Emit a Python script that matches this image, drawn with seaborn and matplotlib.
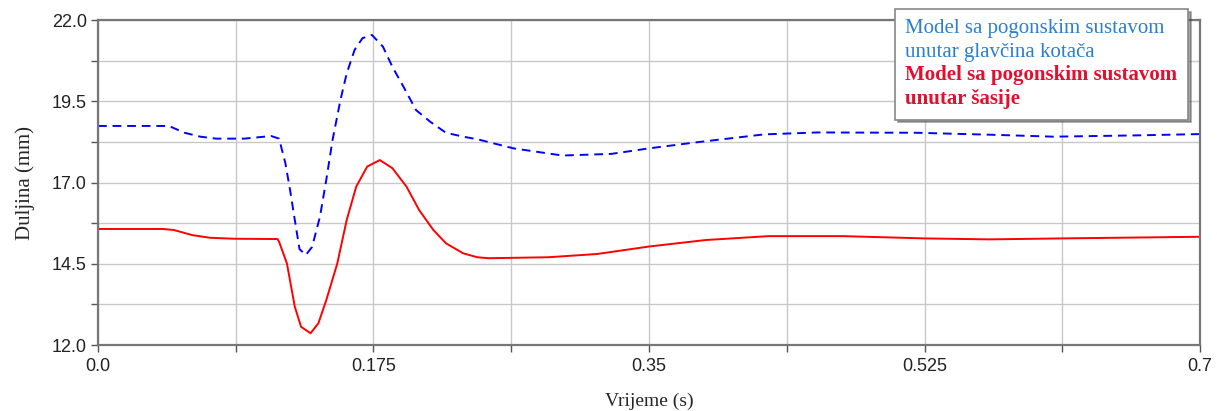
import numpy as np
import pandas as pd
import matplotlib
matplotlib.use("Agg")
import matplotlib.pyplot as plt
from matplotlib.ticker import FixedLocator, FixedFormatter
import seaborn as sns

# ------------------------------------------------------------
# Data
# ------------------------------------------------------------
t_hub = [0.0, 0.045, 0.055, 0.065, 0.075, 0.093, 0.110, 0.115, 0.119, 0.122,
         0.125, 0.128, 0.132, 0.136, 0.141, 0.145, 0.149, 0.154, 0.158, 0.163,
         0.168, 0.174, 0.181, 0.187, 0.194, 0.202, 0.211, 0.221, 0.232, 0.241,
         0.264, 0.295, 0.326, 0.350, 0.379, 0.423, 0.457, 0.520, 0.567, 0.607,
         0.660, 0.700]
v_hub = [18.74, 18.74, 18.53, 18.41, 18.35, 18.35, 18.43, 18.35, 17.60, 16.77,
         15.85, 14.95, 14.77, 15.02, 15.95, 17.08, 18.31, 19.54, 20.36, 21.08,
         21.44, 21.54, 21.18, 20.56, 19.95, 19.23, 18.87, 18.53, 18.41, 18.33,
         18.05, 17.83, 17.88, 18.05, 18.23, 18.48, 18.54, 18.53, 18.47, 18.41,
         18.45, 18.49]

t_chassis = [0.0, 0.041, 0.048, 0.060, 0.071, 0.086, 0.114, 0.115, 0.120, 0.125,
             0.129, 0.135, 0.140, 0.145, 0.152, 0.158, 0.164, 0.171, 0.179, 0.187,
             0.196, 0.204, 0.213, 0.221, 0.232, 0.241, 0.248, 0.286, 0.317, 0.350,
             0.386, 0.426, 0.473, 0.525, 0.566, 0.6125, 0.700]
v_chassis = [15.57, 15.57, 15.54, 15.38, 15.30, 15.27, 15.26, 15.18, 14.51, 13.18,
             12.56, 12.36, 12.67, 13.38, 14.51, 15.85, 16.87, 17.49, 17.69, 17.44,
             16.87, 16.15, 15.54, 15.13, 14.82, 14.70, 14.67, 14.70, 14.80, 15.03,
             15.23, 15.35, 15.35, 15.28, 15.25, 15.28, 15.33]

label_hub = "Model sa pogonskim sustavom\nunutar glavčina kotača"
label_chassis = "Model sa pogonskim sustavom\nunutar šasije"

x_major = [0.0, 0.175, 0.35, 0.525, 0.7]
x_major_labels = ["0.0", "0.175", "0.35", "0.525", "0.7"]
x_minor = [0.0875, 0.2625, 0.4375, 0.6125]
y_major = [12.0, 14.5, 17.0, 19.5, 22.0]
y_major_labels = ["12.0", "14.5", "17.0", "19.5", "22.0"]
y_minor = [13.25, 15.75, 18.25, 20.75]

# ------------------------------------------------------------
# Plot
# ------------------------------------------------------------
sns.set_style("white")
plt.rcParams['font.family'] = ['Liberation Sans', 'DejaVu Sans']

fig = plt.figure(figsize=(12.17, 4.11), dpi=100)
ax = fig.add_axes([98 / 1217, 1 - 345 / 411, 1102 / 1217, 325 / 411])

sns.lineplot(x=t_hub, y=v_hub, ax=ax, color="#0000ff", linewidth=1.4,
             estimator=None, sort=False)
sns.lineplot(x=t_chassis, y=v_chassis, ax=ax, color="#ff0000", linewidth=1.4,
             estimator=None, sort=False)
ax.lines[0].set_dashes([4.5, 3])

ax.set_xlim(0, 0.7)
ax.set_ylim(12, 22)

ax.xaxis.set_major_locator(FixedLocator(x_major))
ax.xaxis.set_major_formatter(FixedFormatter(x_major_labels))
ax.xaxis.set_minor_locator(FixedLocator(x_minor))
ax.yaxis.set_major_locator(FixedLocator(y_major))
ax.yaxis.set_major_formatter(FixedFormatter(y_major_labels))
ax.yaxis.set_minor_locator(FixedLocator(y_minor))

ax.grid(True, which="both", color="#c8c8c8", linewidth=1.0)
ax.set_axisbelow(True)
ax.tick_params(which="both", direction="out", length=5, width=1.0,
               color="#555555", bottom=True, left=True)
ax.tick_params(axis="y", labelsize=13, pad=3, labelcolor="#222222")
ax.tick_params(axis="x", labelsize=13, pad=4, labelcolor="#222222")

for side in ["left", "bottom", "top", "right"]:
    ax.spines[side].set_visible(True)
    ax.spines[side].set_color("#777777")
    ax.spines[side].set_linewidth(1.6)

ax.set_xlabel("Vrijeme (s)", family="Liberation Serif", fontsize=14, labelpad=13)
ax.set_ylabel("Duljina (mm)", family="Liberation Serif", fontsize=15, labelpad=12)

# Legend: text only, coloured per series
leg = ax.legend(handles=[plt.Line2D([], [], linestyle="none"),
                         plt.Line2D([], [], linestyle="none")],
                labels=[label_hub, label_chassis],
                loc="upper left", bbox_to_anchor=(895 / 1217, 1 - 9 / 411),
                bbox_transform=fig.transFigure, borderaxespad=0,
                handlelength=0, handletextpad=0, labelspacing=0.15,
                borderpad=0.5, fancybox=False, shadow=True, framealpha=1,
                edgecolor="#888888",
                prop={"family": "Liberation Serif", "size": 15})
leg.get_frame().set_linewidth(1.2)
for txt in leg.get_texts():
    txt.set_linespacing(1.3)
leg.get_texts()[0].set_color("#2a7fd0")
leg.get_texts()[1].set_color("#e0102e")
leg.get_texts()[1].set_fontweight("bold")
leg.set_zorder(10)

fig.savefig("out.png", dpi=100)
